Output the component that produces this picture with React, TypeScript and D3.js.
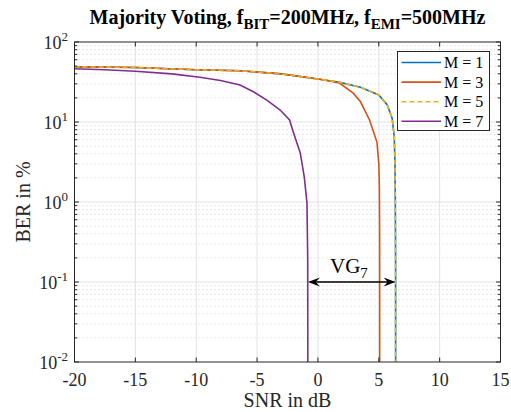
import React from "react";
import * as d3 from "d3";

const xTicks = [-20, -15, -10, -5, 0, 5, 10, 15];
const yDecades = [-2, -1, 0, 1, 2];

const snrM1 = [-20, -15, -10, -6.4, -3, 0, 1.8, 3.5, 5, 5.7, 6.1, 6.27, 6.33, 6.36, 6.38, 6.385];
const berM1 = [49, 48, 45, 43.8, 40, 34.5, 31.3, 27.2, 21.8, 16.3, 11.1, 6.6, 3, 1, 0.2, 0.001];

const snrM3 = [-20, -15, -10, -6.4, -3, 0, 1.0, 1.8, 2.9, 3.5, 4.24, 4.6, 4.85, 5.0, 5.05, 5.07, 5.08];
const berM3 = [49, 48, 45, 43.8, 40, 34.5, 32.5, 30.5, 22.9, 17.9, 10.6, 7.3, 5.6, 3, 1.5, 0.4, 0.001];

const snrM5 = [-20, -15, -10, -6.4, -3, 0, 1.8, 3.5, 5, 5.7, 6.1, 6.27, 6.33, 6.36, 6.38, 6.385];
const berM5 = [49, 48, 45, 43.8, 40, 34.5, 31.3, 27.2, 21.8, 16.3, 11.1, 6.6, 3, 1, 0.2, 0.001];

const snrM7 = [-20, -17.5, -15, -12, -9.7, -8, -6.4, -5.3, -4.2, -3.1, -2.33, -2.0, -1.45, -1.12, -0.9, -0.84, -0.82];
const berM7 = [46.4, 45, 43, 40, 36.2, 33, 29, 23.9, 18.8, 14.1, 10.6, 7.3, 4.1, 2.05, 0.97, 0.2, 0.001];

const seriesNames = ["M = 1", "M = 3", "M = 5", "M = 7"];
const seriesColors = ["#0072BD", "#D95319", "#EDB120", "#7E2F8E"];
const seriesDash = ["", "", "5,3", ""];

const vgFrom = -0.82;
const vgTo = 6.38;
const vgLevel = 0.1;

const W = 511;
const H = 412;
const L = 74.5;
const R = 500.5;
const T = 42;
const B = 362;
const FONT = "'Liberation Serif', 'Times New Roman', serif";

export default function App() {
  const x = d3.scaleLinear().domain([-20, 15]).range([L, R]);
  const y = d3.scaleLog().domain([0.01, 100]).range([B, T]);

  const data = [
    d3.zip(snrM1, berM1),
    d3.zip(snrM3, berM3),
    d3.zip(snrM5, berM5),
    d3.zip(snrM7, berM7),
  ];
  const line = d3
    .line<number[]>()
    .x((d) => x(d[0]))
    .y((d) => y(d[1]));

  const minorY: number[] = [];
  for (let e = -2; e < 2; e++) {
    for (let k = 2; k <= 9; k++) minorY.push(k * Math.pow(10, e));
  }

  const ax = "#262626";
  const yv = y(vgLevel);
  const x1 = x(vgFrom);
  const x2 = x(vgTo);
  const AL = 12;
  const AW = 4.5;
  const arrowL = `M${x1},${yv} L${x1 + AL},${yv - AW} L${x1 + AL * 0.65},${yv} L${x1 + AL},${yv + AW} Z`;
  const arrowR = `M${x2},${yv} L${x2 - AL},${yv - AW} L${x2 - AL * 0.65},${yv} L${x2 - AL},${yv + AW} Z`;

  return (
    <svg
      width={W}
      height={H}
      style={{ position: "absolute", left: 0, top: 0, background: "#fff" }}
      fontFamily={FONT}
    >
      <defs>
        <clipPath id="plotclip">
          <rect x={L} y={T} width={R - L} height={B - T} />
        </clipPath>
      </defs>
      <rect x={0} y={0} width={W} height={H} fill="#fff" />
      {/* minor grid */}
      {minorY.map((v, i) => (
        <line
          key={"mg" + i}
          x1={L}
          x2={R}
          y1={y(v)}
          y2={y(v)}
          stroke="#c4c4c4"
          strokeWidth={0.8}
          strokeDasharray="1,3"
        />
      ))}
      {/* major grid */}
      {xTicks.slice(1, -1).map((v) => (
        <line key={"gx" + v} x1={x(v)} x2={x(v)} y1={T} y2={B} stroke="#e2e2e2" strokeWidth={1} />
      ))}
      {yDecades.slice(1, -1).map((e) => (
        <line
          key={"gy" + e}
          x1={L}
          x2={R}
          y1={y(Math.pow(10, e))}
          y2={y(Math.pow(10, e))}
          stroke="#e2e2e2"
          strokeWidth={1}
        />
      ))}
      {/* curves */}
      <g clipPath="url(#plotclip)">
        {data.map((d, i) => (
          <path
            key={"s" + i}
            d={line(d as number[][]) || ""}
            fill="none"
            stroke={seriesColors[i]}
            strokeWidth={1.6}
            strokeDasharray={seriesDash[i] || undefined}
          />
        ))}
      </g>
      {/* ticks */}
      {xTicks.map((v) => (
        <g key={"tx" + v}>
          <line x1={x(v)} x2={x(v)} y1={B} y2={B - 4.5} stroke={ax} />
          <line x1={x(v)} x2={x(v)} y1={T} y2={T + 4.5} stroke={ax} />
          <text x={x(v)} y={386} textAnchor="middle" fontSize={18} fill={ax}>
            {v}
          </text>
        </g>
      ))}
      {yDecades.map((e) => (
        <g key={"ty" + e}>
          <line x1={L} x2={L + 4.5} y1={y(Math.pow(10, e))} y2={y(Math.pow(10, e))} stroke={ax} />
          <line x1={R} x2={R - 4.5} y1={y(Math.pow(10, e))} y2={y(Math.pow(10, e))} stroke={ax} />
          <text x={68} y={y(Math.pow(10, e)) + 6.5} textAnchor="end" fontSize={18} fill={ax}>
            10
            <tspan dy={-8} fontSize={13}>
              {e}
            </tspan>
          </text>
        </g>
      ))}
      {minorY.map((v, i) => (
        <g key={"mt" + i}>
          <line x1={L} x2={L + 2.8} y1={y(v)} y2={y(v)} stroke={ax} />
          <line x1={R} x2={R - 2.8} y1={y(v)} y2={y(v)} stroke={ax} />
        </g>
      ))}
      {/* frame */}
      <rect x={L} y={T} width={R - L} height={B - T} fill="none" stroke={ax} strokeWidth={1} />
      {/* VG arrow */}
      <line x1={x1 + 6} x2={x2 - 6} y1={yv} y2={yv} stroke="#000" strokeWidth={1.4} />
      <path d={arrowL} fill="#000" />
      <path d={arrowR} fill="#000" />
      <text x={330} y={273} fontSize={21} fill="#000">
        VG
        <tspan dy={5} fontSize={15}>
          7
        </tspan>
      </text>
      {/* legend */}
      <rect x={397.5} y={51.5} width={92} height={79} fill="#fff" stroke={ax} strokeWidth={1} />
      {seriesNames.map((n, i) => {
        const ly = 62.5 + i * 19.6;
        return (
          <g key={"lg" + i}>
            <line
              x1={401.5}
              x2={441}
              y1={ly}
              y2={ly}
              stroke={seriesColors[i]}
              strokeWidth={1.6}
              strokeDasharray={seriesDash[i] || undefined}
            />
            <text x={444} y={ly + 5.5} fontSize={16} fill="#000">
              {n}
            </text>
          </g>
        );
      })}
      {/* title */}
      <text x={(L + R) / 2} y={24} textAnchor="middle" fontSize={20} fontWeight="bold" fill="#000">
        Majority Voting, f
        <tspan dy={5} fontSize={15}>BIT</tspan>
        <tspan dy={-5}>=200MHz, f</tspan>
        <tspan dy={5} fontSize={15}>EMI</tspan>
        <tspan dy={-5}>=500MHz</tspan>
      </text>
      {/* axis labels */}
      <text x={(L + R) / 2} y={407} textAnchor="middle" fontSize={20} fill={ax}>
        SNR in dB
      </text>
      <text
        transform={`translate(30, ${(T + B) / 2}) rotate(-90)`}
        textAnchor="middle"
        fontSize={20}
        fill={ax}
      >
        BER in %
      </text>
    </svg>
  );
}
